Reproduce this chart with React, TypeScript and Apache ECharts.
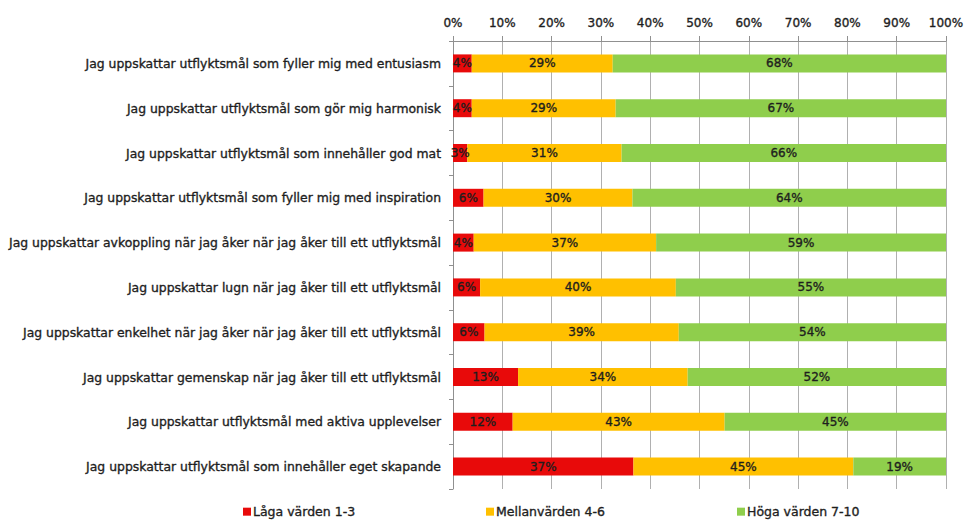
import React, { useEffect, useRef } from "react";
import * as echarts from "echarts";

const categories = [
  "Jag uppskattar utflyktsmål som fyller mig med entusiasm",
  "Jag uppskattar utflyktsmål som gör mig harmonisk",
  "Jag uppskattar utflyktsmål som innehåller god mat",
  "Jag uppskattar utflyktsmål som fyller mig med inspiration",
  "Jag uppskattar avkoppling när jag åker när jag åker till ett utflyktsmål",
  "Jag uppskattar lugn när jag åker till ett utflyktsmål",
  "Jag uppskattar enkelhet när jag åker när jag åker till ett utflyktsmål",
  "Jag uppskattar gemenskap när jag åker till ett utflyktsmål",
  "Jag uppskattar utflyktsmål med aktiva upplevelser",
  "Jag uppskattar utflyktsmål som innehåller eget skapande",
];

const seriesNames = ["Låga värden 1-3", "Mellanvärden 4-6", "Höga värden 7-10"];

const lowValues = [3.8, 3.8, 2.9, 6.2, 4.2, 5.5, 6.4, 13.2, 12.1, 36.6];
const midValues = [28.6, 29.2, 31.3, 30.2, 37.0, 39.7, 39.4, 34.4, 43.0, 44.6];
const highValues = [67.6, 67.0, 65.8, 63.6, 58.8, 54.8, 54.2, 52.4, 44.9, 18.8];

const colors = ["#e80a0a", "#ffc000", "#8fce4c"];
const legendLefts = [243, 486, 737];

const FONT = "'DejaVu Sans', 'Liberation Sans', Arial, sans-serif";
const TXT = "#1e1e1e";
const heavy = { textBorderColor: TXT, textBorderWidth: 0.35 };

export default function App() {
  const ref = useRef<HTMLDivElement>(null);
  useEffect(() => {
    document.body.style.margin = "0";
    if (!ref.current) return;
    const chart = echarts.init(ref.current, null, { renderer: "svg" });
    const data = [lowValues, midValues, highValues];
    chart.setOption({
      animation: false,
      backgroundColor: "#ffffff",
      textStyle: { fontFamily: FONT },
      grid: { left: 453, right: 27, top: 41, bottom: 32, containLabel: false },
      legend: seriesNames.map((n, i) => ({
        data: [n],
        left: legendLefts[i],
        top: 505,
        icon: "rect",
        itemWidth: 8,
        itemHeight: 8,
        itemGap: 0,
        padding: 0,
        textStyle: {
          fontSize: 12.5,
          color: TXT,
          fontFamily: FONT,
          padding: [0, 0, 0, -3],
          ...heavy,
        },
      })),
      xAxis: {
        type: "value",
        position: "top",
        min: 0,
        max: 100,
        interval: 10,
        axisLine: { show: true, lineStyle: { color: "#909090", width: 1 } },
        axisTick: { show: true, length: 5, lineStyle: { color: "#909090" } },
        splitLine: { show: true, lineStyle: { color: "#b0b0b0", width: 1 } },
        axisLabel: {
          formatter: "{value}%",
          fontSize: 12,
          color: TXT,
          margin: 12,
          fontFamily: FONT,
          ...heavy,
        },
      },
      yAxis: {
        type: "category",
        inverse: true,
        data: categories,
        axisLine: { show: true, lineStyle: { color: "#909090" } },
        axisTick: { show: true, length: 4, lineStyle: { color: "#909090" } },
        axisLabel: {
          fontSize: 12.4,
          color: TXT,
          margin: 12,
          fontFamily: FONT,
          ...heavy,
        },
      },
      series: data.map((vals, i) => ({
        name: seriesNames[i],
        type: "bar",
        stack: "total",
        barWidth: 18,
        data: vals,
        itemStyle: { color: colors[i] },
        label: {
          show: true,
          position: "inside",
          formatter: (p: any) => Math.round(p.value) + "%",
          fontSize: 12,
          color: TXT,
          fontFamily: FONT,
          ...heavy,
        },
      })),
    });
    return () => chart.dispose();
  }, []);
  return <div ref={ref} style={{ width: 973, height: 521 }} />;
}
